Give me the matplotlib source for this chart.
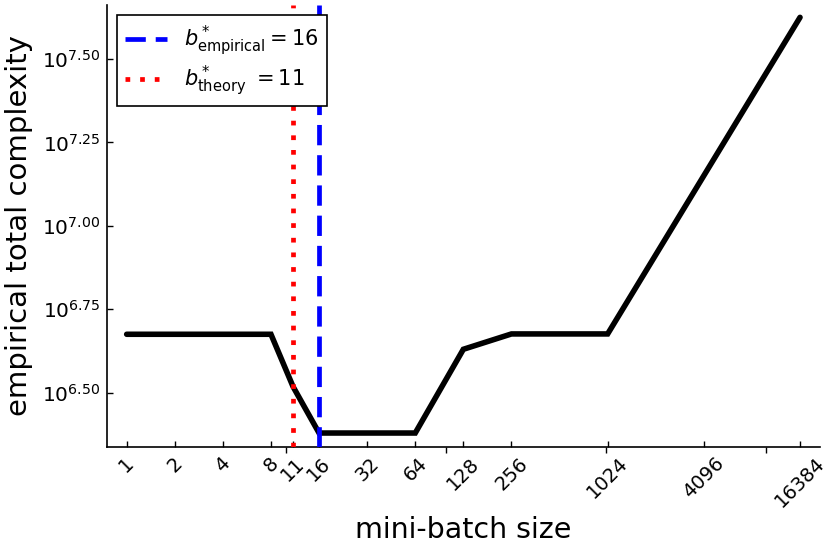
import matplotlib
matplotlib.use("Agg")
import matplotlib.pyplot as plt
from matplotlib.ticker import FixedLocator, NullLocator, FixedFormatter, NullFormatter

plt.rcParams['font.family'] = ['DejaVu Sans']
plt.rcParams['mathtext.fontset'] = 'dejavusans'

# data (y given as log10 of the complexity)
batch_sizes = [1, 2, 4, 8, 11, 16, 32, 64, 128, 256, 1024, 16384]
log10_complexity = [6.675, 6.675, 6.675, 6.675, 6.518, 6.379, 6.379, 6.379, 6.630, 6.676, 6.676, 7.625]
complexity = [10 ** v for v in log10_complexity]

b_empirical = 16
b_theory = 11

xtick_values = [1, 2, 4, 8, 11, 16, 32, 64, 128, 256, 1024, 4096, 16384]
xtick_labels = [str(v) for v in xtick_values]
xminor_values = [10, 100, 1000, 10000]
ytick_exponents = [6.50, 6.75, 7.00, 7.25, 7.50]
ytick_labels = [r'$10^{%.2f}$' % e for e in ytick_exponents]

fig = plt.figure(figsize=(8.3, 5.54), dpi=100)
ax = fig.add_axes([106.7 / 830, 1 - 446.7 / 554, (820 - 106.7) / 830, (446.7 - 5) / 554])

ax.plot(batch_sizes, complexity, color='black', lw=4, solid_capstyle='round', solid_joinstyle='miter', zorder=2)
lw_v = 3.4
ax.axvline(b_empirical, color='blue', lw=lw_v, linestyle=(0, (4.3, 2.1)), dash_capstyle='butt',
           label=r'$b^*_{\rm empirical} = 16$', zorder=3)
ax.axvline(b_theory, color='red', lw=lw_v, linestyle=(0, (1.0, 2.1)), dash_capstyle='butt',
           label=r'$b^*_{\rm theory}\ = 11$', zorder=3)

ax.set_xscale('log', base=2)
ax.set_yscale('log')
ax.set_xlim(0.75, 16384 / 0.75)
ax.set_ylim(10 ** 6.338, 10 ** 7.662)

ax.xaxis.set_major_locator(FixedLocator(xtick_values))
ax.xaxis.set_major_formatter(FixedFormatter(xtick_labels))
ax.xaxis.set_minor_locator(FixedLocator(xminor_values))
ax.xaxis.set_minor_formatter(NullFormatter())
ax.yaxis.set_major_locator(FixedLocator([10 ** e for e in ytick_exponents]))
ax.yaxis.set_major_formatter(FixedFormatter(ytick_labels))
ax.yaxis.set_minor_locator(NullLocator())

ax.tick_params(axis='x', which='major', direction='in', length=4.5, width=1, labelsize=14, pad=5,
               labelrotation=45, top=False)
ax.tick_params(axis='x', which='minor', direction='out', length=4, width=1, top=False)
ax.tick_params(axis='y', which='major', direction='in', length=4.5, width=1, labelsize=14.5, pad=5, right=False)

for side in ['top', 'right']:
    ax.spines[side].set_visible(False)
for side in ['left', 'bottom']:
    ax.spines[side].set_linewidth(1.2)
    ax.spines[side].set_color('black')

ax.set_xlabel('mini-batch size', fontsize=20.5, labelpad=4)
ax.set_ylabel('empirical total complexity', fontsize=21, labelpad=6)

leg = ax.legend(loc='upper left', fontsize=15, fancybox=False, edgecolor='black', framealpha=1,
                borderaxespad=0.5, handlelength=2.0, labelspacing=0.25)
leg.get_frame().set_linewidth(1.2)

fig.savefig('out.png', dpi=100)
